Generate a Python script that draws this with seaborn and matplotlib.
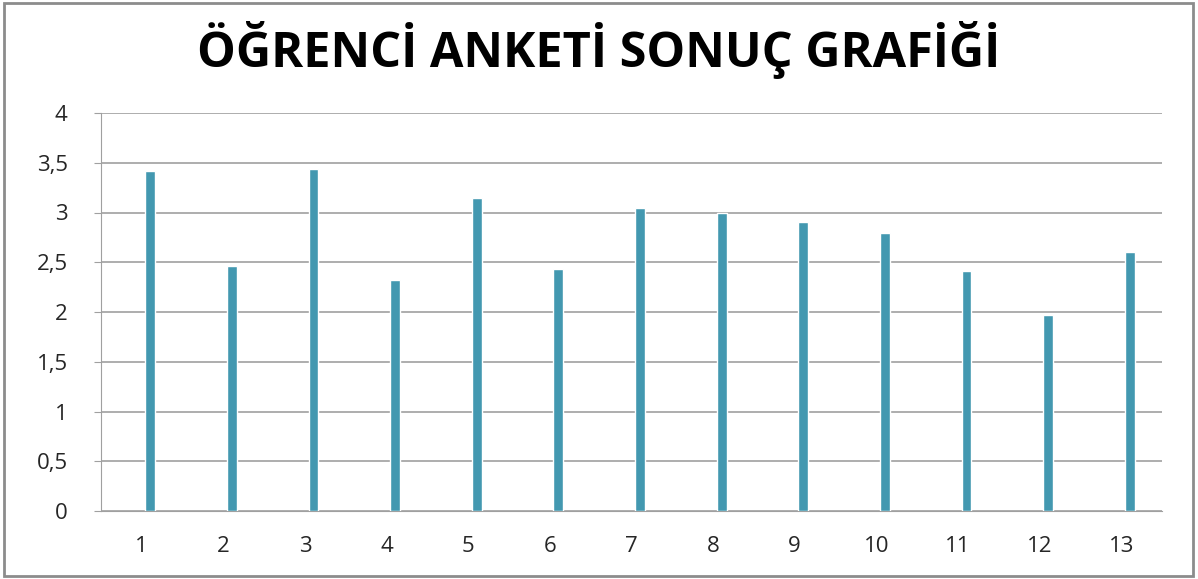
import pandas as pd
import matplotlib.pyplot as plt
import seaborn as sns
from matplotlib.patches import Rectangle
from matplotlib.transforms import ScaledTranslation

questions = [str(i) for i in range(1, 14)]
scores = [3.42, 2.46, 3.44, 2.32, 3.15, 2.43, 3.05, 3.0, 2.90, 2.79, 2.41, 1.97, 2.60]
y_ticks = [0, 0.5, 1, 1.5, 2, 2.5, 3, 3.5, 4]
y_labels = ['0', '0,5', '1', '1,5', '2', '2,5', '3', '3,5', '4']

df = pd.DataFrame({'soru': questions, 'puan': scores})

sns.set_style('white')
plt.rcParams['font.family'] = ['Open Sans', 'DejaVu Sans']

fig = plt.figure(figsize=(11.98, 5.79), dpi=100)
ax = fig.add_axes([101 / 1198, 68 / 579, 1061 / 1198, 398 / 579])

sns.barplot(data=df, x='soru', y='puan', color='#4398B0', width=0.12,
            saturation=1, ax=ax, zorder=3)

# bars sit a little right of the category labels, like in the original
shift = ax.transData + ScaledTranslation(8.5 / 100, 0, fig.dpi_scale_trans)
for p in ax.patches:
    p.set_transform(shift)

ax.set_xlim(-0.5, 12.5)
ax.set_ylim(0, 4)
ax.set_yticks(y_ticks)
ax.set_yticklabels(y_labels, fontsize=16)
ax.tick_params(axis='x', length=0, labelsize=16, pad=18)
ax.tick_params(axis='y', length=5, color='#A0A0A0', labelsize=16, pad=19, left=True)
ax.yaxis.grid(True, color='#A0A0A0', linewidth=1.2)
ax.set_axisbelow(True)
for s in ['top', 'right']:
    ax.spines[s].set_visible(False)
ax.spines['left'].set_color('#A0A0A0')
ax.spines['bottom'].set_color('#A0A0A0')
ax.set_xlabel('')
ax.set_ylabel('')

fig.text(0.5, 1 - 50 / 579, 'ÖĞRENCİ ANKETİ SONUÇ GRAFİĞİ', ha='center', va='center',
         fontsize=35, fontweight='bold', color='black')

fig.patches.append(Rectangle((4 / 1198, 3 / 579), 1189 / 1198, 573 / 579,
                             transform=fig.transFigure, fill=False,
                             edgecolor='#8C8C8C', linewidth=2))

plt.savefig('out.png', dpi=100)
